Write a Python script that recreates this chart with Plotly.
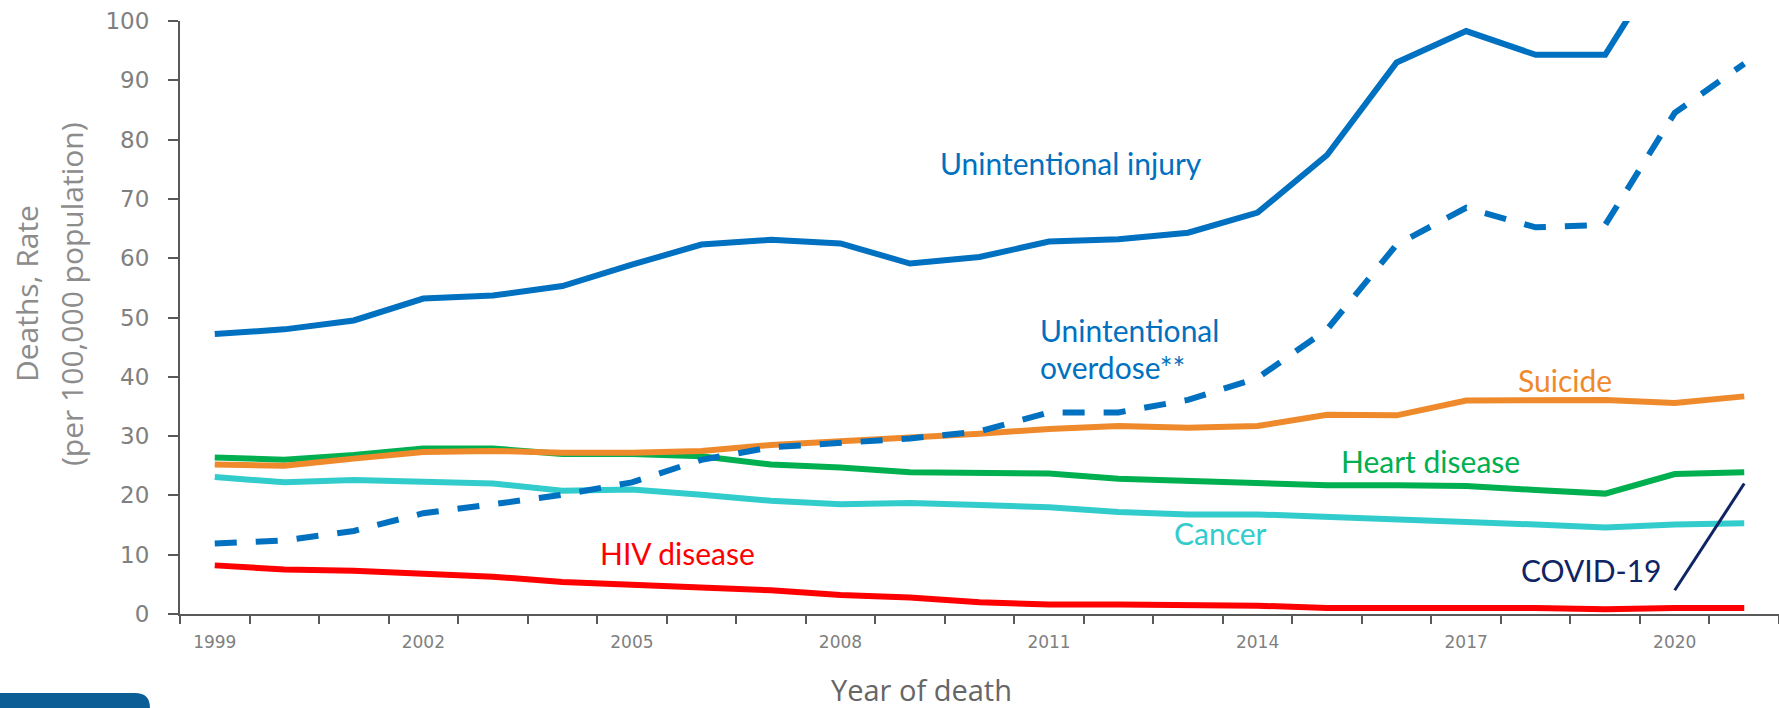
import plotly.graph_objects as go

years = list(range(1999, 2022))
unintentional_injury = [47.2, 48.0, 49.5, 53.2, 53.7, 55.3, 58.9, 62.3, 63.1, 62.5, 59.1, 60.2,
                        62.8, 63.2, 64.3, 67.7, 77.4, 93.0, 98.3, 94.3, 94.3, 113.0, 125.0]
unintentional_overdose = [11.9, 12.4, 14.0, 17.0, 18.5, 20.1, 22.2, 26.0, 28.1, 28.9, 29.6, 30.8,
                          34.0, 34.0, 36.1, 39.8, 48.0, 62.3, 68.5, 65.2, 65.6, 84.5, 92.8]
suicide = [25.2, 25.0, 26.2, 27.3, 27.5, 27.2, 27.2, 27.5, 28.5, 29.1, 29.6, 30.4,
           31.2, 31.7, 31.4, 31.7, 33.6, 33.5, 36.0, 36.0, 36.1, 35.6, 36.7]
heart_disease = [26.4, 26.0, 26.8, 27.9, 27.9, 27.0, 27.0, 26.6, 25.2, 24.7, 23.9, 23.7,
                 23.7, 22.8, 22.4, 22.0, 21.7, 21.7, 21.6, 20.9, 20.3, 23.6, 23.9]
cancer = [23.1, 22.2, 22.6, 22.4, 22.0, 20.8, 21.0, 20.1, 19.1, 18.5, 18.7, 18.4,
          18.0, 17.2, 16.8, 16.8, 16.3, 16.0, 15.5, 15.1, 14.6, 15.1, 15.3]
hiv_disease = [8.2, 7.5, 7.3, 6.7, 6.3, 5.4, 5.0, 4.4, 4.0, 3.2, 2.8, 2.0,
               1.6, 1.6, 1.6, 1.4, 1.0, 1.1, 1.0, 1.0, 0.8, 1.0, 1.0]
covid_years = [2020, 2021]
covid = [4.0, 22.0]

xtick_years = [1999, 2002, 2005, 2008, 2011, 2014, 2017, 2020]
ytick_vals = [0, 10, 20, 30, 40, 50, 60, 70, 80, 90, 100]

BLUE = "#0070C0"
ORANGE = "#EE8A2B"
GREEN = "#00B050"
CYAN = "#33CCCC"
RED = "#FF0000"
NAVY = "#0F2463"
AXIS = "#595959"
TICKTXT = "#808080"

W, H = 1779, 708
ML, MR, MT, MB = 180, 0, 21, 94
PW, PH = W - ML - MR, H - MT - MB

fig = go.Figure()
series = [
    (hiv_disease, RED, 6, "solid"),
    (cancer, CYAN, 6, "solid"),
    (heart_disease, GREEN, 6, "solid"),
    (suicide, ORANGE, 6, "solid"),
    (unintentional_overdose, BLUE, 6, "22px,19px"),
    (unintentional_injury, BLUE, 6, "solid"),
]
for vals, col, wd, dash in series:
    fig.add_trace(go.Scatter(x=years, y=vals, mode="lines",
                             line=dict(color=col, width=wd, dash=dash),
                             hoverinfo="skip", showlegend=False))
fig.add_trace(go.Scatter(x=covid_years, y=covid, mode="lines",
                         line=dict(color=NAVY, width=3),
                         hoverinfo="skip", showlegend=False))

FONT = "Lato, 'Open Sans', sans-serif"
TFONT = "'Open Sans', sans-serif"


def px_to_x(px):
    return 1998.5 + (px - ML) / (PW / 23.0)


def py_to_y(py):
    return (H - MB - py) / (PH / 100.0)


labels = [
    ("Unintentional injury", 1071, 163, "center", BLUE),
    ("Unintentional", 1038, 330, "left", BLUE),
    ("overdose**", 1038, 367, "left", BLUE),
    ("Suicide", 1565, 380, "center", ORANGE),
    ("Heart disease", 1430, 461, "center", GREEN),
    ("Cancer", 1220, 533, "center", CYAN),
    ("HIV disease", 677, 553, "center", RED),
    ("COVID-19", 1591, 570, "center", NAVY),
]
for txt, px, py, anchor, col in labels:
    fig.add_annotation(x=px_to_x(px), y=py_to_y(py), xref="x", yref="y", text=txt,
                       showarrow=False, xanchor=anchor, yanchor="middle",
                       font=dict(family=FONT, size=30, color=col))

# axis titles
fig.add_annotation(x=(26 - ML) / PW, y=(H - MB - 294) / PH, xref="paper", yref="paper",
                   text="Deaths, Rate", textangle=-90, showarrow=False,
                   xanchor="center", yanchor="middle",
                   font=dict(family=TFONT, size=30, color="#8C8C8C"))
fig.add_annotation(x=(71 - ML) / PW, y=(H - MB - 294) / PH, xref="paper", yref="paper",
                   text="(per 100,000 population)", textangle=-90, showarrow=False,
                   xanchor="center", yanchor="middle",
                   font=dict(family=TFONT, size=30, color="#8C8C8C"))
fig.add_annotation(x=(921 - ML) / PW, y=(H - MB - 689) / PH, xref="paper", yref="paper",
                   text="Year of death", showarrow=False,
                   xanchor="center", yanchor="middle",
                   font=dict(family=TFONT, size=29, color="#666666"))

# logo tab in the bottom-left corner (decoration)
x0, x1 = (0 - ML) / PW, (150 - ML) / PW
yt, yb = (H - MB - 693) / PH, (H - MB - 712) / PH
rx, ry = 15 / PW, 15 / PH
fig.add_shape(type="path", xref="paper", yref="paper",
              path=f"M {x0},{yb} L {x0},{yt} L {x1 - rx},{yt} Q {x1},{yt} {x1},{yt - ry} L {x1},{yb} Z",
              fillcolor="#0B5E96", line=dict(width=0), layer="above")

fig.update_layout(
    width=W, height=H, autosize=False,
    margin=dict(l=ML, r=MR, t=MT, b=MB, pad=0),
    paper_bgcolor="white", plot_bgcolor="white",
    showlegend=False,
    xaxis=dict(range=[1998.5, 2021.5], showgrid=False, zeroline=False,
               showline=True, linecolor=AXIS, linewidth=2,
               tickmode="array", tickvals=xtick_years, ticktext=[str(y) for y in xtick_years],
               ticks="", ticklen=0, ticklabelstandoff=12,
               tickfont=dict(family="DejaVu Sans", size=17, color=TICKTXT),
               minor=dict(tickmode="array", tickvals=[y - 0.5 for y in years] + [2021.5],
                          ticks="outside", ticklen=8, tickwidth=2, tickcolor=AXIS, showgrid=False)),
    yaxis=dict(range=[0, 100], showgrid=False, zeroline=False,
               showline=True, linecolor=AXIS, linewidth=2,
               tickmode="array", tickvals=ytick_vals,
               ticks="outside", ticklen=10, tickwidth=2, tickcolor=AXIS,
               ticklabelstandoff=14,
               tickfont=dict(family="DejaVu Sans", size=23, color=TICKTXT)),
)

fig.write_html("out.html",
               config={"displayModeBar": False, "staticPlot": True},
               post_script="document.body.style.margin='0';document.body.style.overflow='hidden';")
